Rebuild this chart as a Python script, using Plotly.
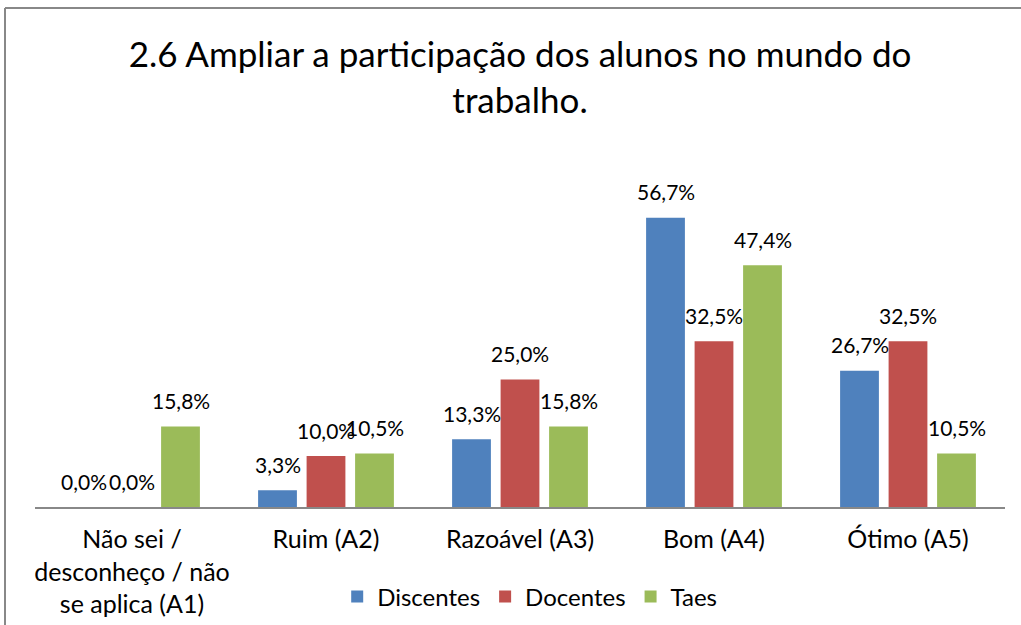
import plotly.graph_objects as go

categories = ["Não sei /<br>desconheço / não<br>se aplica (A1)", "Ruim (A2)", "Razoável (A3)", "Bom (A4)", "Ótimo (A5)"]
series_names = ["Discentes", "Docentes", "Taes"]
discentes = [0.0, 3.3, 13.3, 56.7, 26.7]
docentes = [0.0, 10.0, 25.0, 32.5, 32.5]
taes = [15.8, 10.5, 15.8, 47.4, 10.5]
values = [discentes, docentes, taes]
colors = ["#4F81BD", "#C0504D", "#9BBB59"]
title_text = "2.6 Ampliar a participação dos alunos no mundo do<br>trabalho."

W, H = 1021, 625
ML, MR, MT, MB = 35, 16, 201, 118
BARGAP = 0.25
FONT = "Lato"

def fmt(v):
    return f"{v:.1f}".replace(".", ",") + "%"

fig = go.Figure()
for name, vals, col in zip(series_names, values, colors):
    fig.add_trace(go.Bar(
        name=name, x=categories, y=vals,
        marker=dict(color=col, line=dict(width=0)),
        hoverinfo="skip",
    ))

plot_w = W - ML - MR
plot_h = H - MT - MB
slot = plot_w / len(categories) * (1 - BARGAP) / len(series_names)
annotations = []
for i, vals in enumerate(values):
    off = (i - (len(series_names) - 1) / 2) * slot
    for c, v in zip(categories, vals):
        annotations.append(dict(
            x=c, y=v, xref="x", yref="y", text=fmt(v), showarrow=False,
            xshift=off, yshift=26, yanchor="middle",
            font=dict(family=FONT, size=21, color="#000000"),
        ))

# chart frame (left and top edges visible; the rest runs off the picture)
frame = dict(color="#888888", width=2)
fig.add_shape(type="line", xref="paper", yref="paper",
              x0=(5 - ML) / plot_w, x1=(W + 20 - ML) / plot_w,
              y0=((H - MB) - 8) / plot_h, y1=((H - MB) - 8) / plot_h, line=frame)
fig.add_shape(type="line", xref="paper", yref="paper",
              x0=(5 - ML) / plot_w, x1=(5 - ML) / plot_w,
              y0=((H - MB) - 8) / plot_h, y1=-(H + 20 - (H - MB)) / plot_h, line=frame)

fig.update_layout(
    width=W, height=H,
    margin=dict(l=ML, r=MR, t=MT, b=MB, pad=0, autoexpand=False),
    paper_bgcolor="white", plot_bgcolor="white",
    barmode="group", bargap=BARGAP, bargroupgap=0.2,
    font=dict(family=FONT, color="#000000"),
    title=dict(text=title_text, x=0.5, xref="paper", xanchor="center",
               y=1 - 67 / H, yref="container", yanchor="middle",
               font=dict(family=FONT, size=35, color="#000000")),
    xaxis=dict(showline=True, linecolor="#888888", linewidth=2,
               ticks="", showgrid=False, zeroline=False,
               tickfont=dict(family=FONT, size=25, color="#000000"),
               ticklabelstandoff=9),
    yaxis=dict(range=[0, 60], visible=False, showgrid=False, zeroline=False),
    legend=dict(orientation="h", x=0.51, xanchor="center", xref="paper",
                y=1 - 597 / H, yref="container", yanchor="middle",
                font=dict(family=FONT, size=24, color="#000000"),
                itemclick=False, itemdoubleclick=False, traceorder="normal"),
    annotations=annotations,
    showlegend=True,
)

fig.write_html("out.html",
               config={"displayModeBar": False},
               post_script="document.body.style.margin='0';document.body.style.overflow='hidden';")
